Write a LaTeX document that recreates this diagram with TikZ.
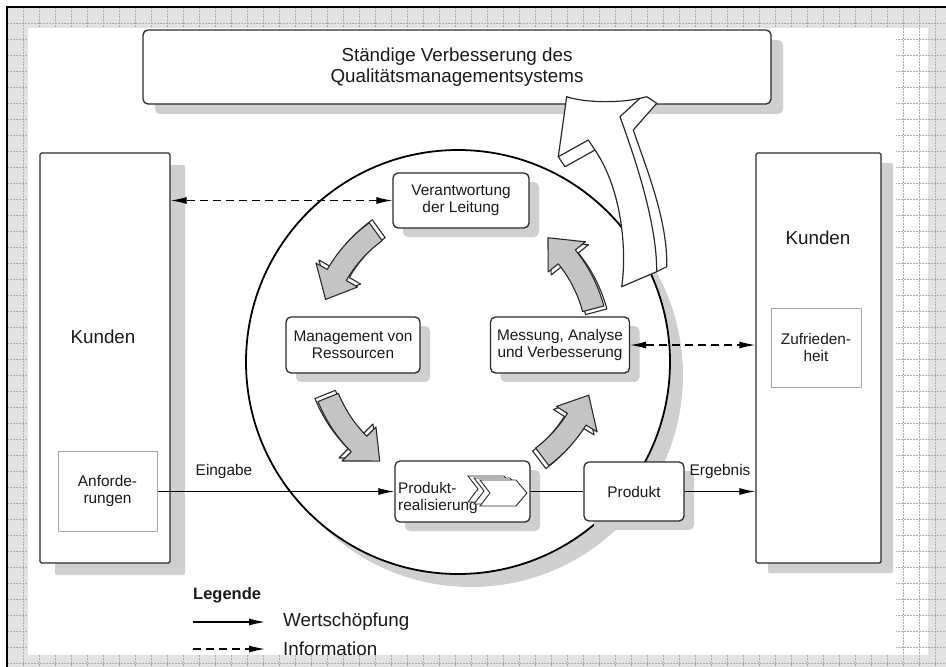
\documentclass[tikz,border=0pt]{standalone}
\usepackage{fontspec}
\setmainfont{Liberation Sans}
\usetikzlibrary{arrows.meta,shadows}
\definecolor{bandgray}{HTML}{E2E2E2}
\definecolor{gridcol}{HTML}{ABABAB}
\definecolor{shadowgray}{HTML}{CFCFCF}
\definecolor{linecol}{HTML}{2A2A2A}
\definecolor{arrowgray}{HTML}{C4C4C4}
\definecolor{lightbox}{HTML}{A8A8A8}
\definecolor{txt}{HTML}{1A1A1A}
\newcommand\topfont{\fontsize{18.8}{21}\selectfont}
\newcommand\kundfont{\fontsize{18.8}{21}\selectfont}
\newcommand\boxfont{\fontsize{15.4}{17}\selectfont}
\newcommand\legfont{\fontsize{18.8}{21}\selectfont}
\newcommand\carrowpath[3]{%
  (#1:151) arc[start angle=#1, end angle=#3, radius=151] -- (#3:164) -- (#2:140)
  -- (#3:116) -- (#3:129) arc[start angle=#3, end angle=#1, radius=129] -- cycle}
\newcommand\cyclearrow[3]{%
  \pgfmathsetmacro\hbang{#2+11}%
  \begin{scope}[shift={(458,345)}]
    \draw[garrowside, shift={#3}] \carrowpath{#1}{#2}{\hbang};
    \draw[garrow] \carrowpath{#1}{#2}{\hbang};
  \end{scope}}
\newcommand\chevron[2]{%
  \draw[chev] (#1,#2-13) -- (#1+36,#2-13) -- (#1+47,#2) -- (#1+36,#2+13) -- (#1,#2+13) -- (#1+10,#2) -- cycle;}
\tikzset{
  gridline/.style={draw=gridcol, line width=0.5pt, dash pattern=on 1.5pt off 1.5pt},
  shadowed/.style 2 args={drop shadow={shadow xshift=#1pt, shadow yshift=-#2pt, fill=shadowgray, opacity=1}},
  cbox/.style={draw=linecol, line width=1.3pt, rounded corners=5pt, fill=white, align=center,
    font=\boxfont, text=txt, inner sep=0pt},
  kbox/.style={draw=linecol, line width=1.4pt, rounded corners=1.5pt, fill=white, inner sep=0pt},
  lbox/.style={draw=lightbox, line width=1pt, fill=white, inner sep=0pt, align=center, font=\boxfont, text=txt},
  ring/.style={circle, draw=black, line width=1.8pt, fill=white, inner sep=0pt, minimum size=424pt},
  lbl/.style={font=\boxfont, text=txt, inner sep=0pt},
  flow/.style={draw=black, line width=1.1pt},
  tip/.style={-{Latex[length=16pt,width=7pt]}},
  bitip/.style={{Latex[length=16pt,width=7pt]}-{Latex[length=16pt,width=7pt]}},
  info/.style={draw=black, line width=1.1pt, dash pattern=on 8pt off 5pt},
  garrow/.style={draw=linecol, line width=1.1pt, fill=arrowgray, line join=round},
  garrowside/.style={draw=linecol, line width=1.1pt, fill=white, line join=round},
  bigarrow/.style={draw=linecol, line width=1.2pt, fill=white, line join=round},
  chev/.style={draw=linecol, line width=0.9pt, fill=white, line join=miter},
}
\begin{document}
\begin{tikzpicture}[x=1pt,y=-1pt]
\useasboundingbox (0,0) rectangle (946,667);
% background sheet
\fill[white] (0,0) rectangle (946,667);
\fill[bandgray] (7,7) rectangle (946,667);
\fill[white] (896,28) rectangle (928,655);
\foreach \gx in {23,39,...,943} \draw[gridline] (\gx,7) -- (\gx,667);
\foreach \gy in {23,39,...,663} \draw[gridline] (7,\gy) -- (946,\gy);
\fill[white] (28,28) rectangle (896,655);
\draw[line width=1.2pt, black] (7,667) -- (7,7) -- (946,7);

% big circle
\node[ring, shadowed={13}{13}] (ring) at (458,362) {};

% top box
\node[cbox, shadowed={12}{10}, font=\topfont, minimum width=628pt, minimum height=74pt] (top) at (457,67)
  {Ständige Verbesserung des\\Qualitätsmanagementsystems};

% customer boxes
\node[kbox, shadowed={15}{12}, minimum width=130pt, minimum height=410pt] (kl) at (105,358) {};
\node[font=\kundfont, text=txt, inner sep=0pt] (kltext) at (103,337) {Kunden};
\node[lbox, minimum width=99pt, minimum height=80pt] (anf) at (107.5,491.5) {Anforde-\\rungen};

\node[kbox, shadowed={12}{10}, minimum width=125pt, minimum height=410pt] (kr) at (818.5,358) {};
\node[font=\kundfont, text=txt, inner sep=0pt] (krtext) at (818,238) {Kunden};
\node[lbox, minimum width=90pt, minimum height=79pt] (zuf) at (816,347.5) {Zufrieden-\\heit};

% process boxes
\node[cbox, shadowed={10}{9}, minimum width=136pt, minimum height=55pt] (vl) at (461,200.5) {Verantwortung\\der Leitung};
\node[cbox, shadowed={10}{9}, minimum width=134pt, minimum height=56pt] (mr) at (353,345) {Management von\\Ressourcen};
\node[cbox, shadowed={10}{9}, minimum width=139pt, minimum height=56pt] (mav) at (560,345) {Messung, Analyse\\und Verbesserung};
\node[cbox, shadowed={10}{9}, minimum width=135pt, minimum height=61pt] (pr) at (462.5,491.5) {};
\node[lbl, align=left, anchor=west] (prtext) at (398,498) {Produkt-\\realisierung};
\chevron{468}{489}
\chevron{474}{491}
\chevron{480}{493}
\node[cbox, shadowed={10}{9}, minimum width=100pt, minimum height=59pt] (prod) at (634,491.5) {Produkt};

% cycle arrows
\cyclearrow{234}{199}{(3,-3)}
\cyclearrow{158}{124}{(-3,-3)}
\cyclearrow{53}{21}{(-3,3)}
\cyclearrow{345}{310}{(3,3)}

% connectors
\draw[info, bitip] (vl.west) -- (vl.west -| kl.east);
\draw[info, bitip] (mav.east) -- (mav.east -| kr.west);
\draw[flow, tip] (anf.east) -- (pr.west);
\draw[flow] (pr.east) -- (prod.west);
\draw[flow, tip] (prod.east) -- (prod.east -| kr.west);
\node[lbl] (eing) at (224,472) {Eingabe};
\node[lbl] (erg) at (720,472) {Ergebnis};

% big improvement arrow
\draw[bigarrow] (566.7,96.7) .. controls (585,103) and (620,103) .. (640,98.3) -- (646.7,96.7) -- (656.7,103.3) -- (633.3,130)
  .. controls (645,165) and (668,220) .. (666.7,266.7) -- (656.7,271.7) -- (621.7,286.7)
  .. controls (627,250) and (622,190) .. (595,150) -- (565,166.7) -- (558.3,156.7) -- cycle;
\draw[bigarrow, fill=none] (558.3,156.7) -- (588.3,140) -- (595,150);
\draw[bigarrow, fill=none] (640,98.3) -- (620,116.7) .. controls (632,150) and (657,220) .. (656.7,271.7);

% legend
\node[font=\bfseries\fontsize{16.5}{19}\selectfont, text=txt, anchor=west, inner sep=0pt] (leg) at (193,595) {Legende};
\coordinate (l1a) at (193,622);
\coordinate (l1b) at (265,622);
\coordinate (l2a) at (193,649);
\coordinate (l2b) at (265,649);
\draw[flow, tip] (l1a) -- (l1b);
\draw[info, tip] (l2a) -- (l2b);
\node[font=\legfont, text=txt, anchor=west, inner sep=0pt] (legw) at (283,622) {Wertschöpfung};
\node[font=\legfont, text=txt, anchor=west, inner sep=0pt] (legi) at (283,649) {Information};
\end{tikzpicture}
\end{document}
